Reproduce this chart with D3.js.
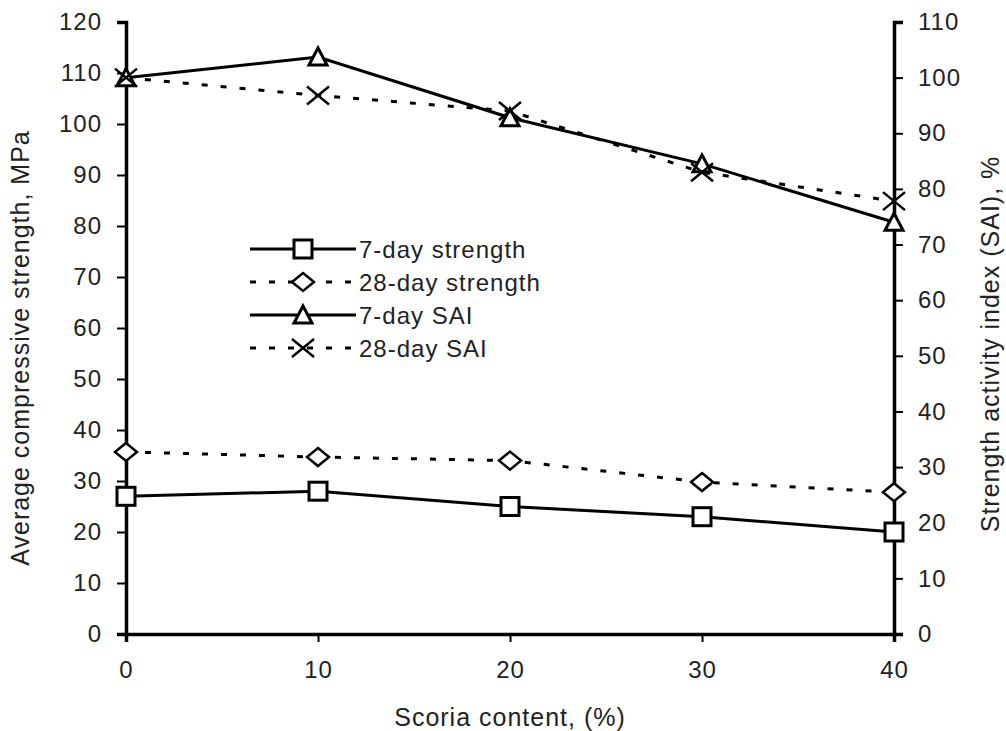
<!DOCTYPE html>
<html>
<head>
<meta charset="utf-8">
<script src="https://cdn.jsdelivr.net/npm/d3@7"></script>
<style>
  body { margin: 0; background: #fff; }
  text { font-family: "Liberation Sans", Arial, sans-serif; fill: #222; letter-spacing: 1px; }
</style>
</head>
<body>
<div id="chart"></div>
<script>
const scoria = [0, 10, 20, 30, 40];
const str7 = [27, 28, 25, 23, 20];
const str28 = [35.7, 34.7, 34, 29.8, 27.8];
const sai7 = [100, 103.7, 92.8, 84.5, 74];
const sai28 = [100, 96.8, 94, 83, 77.8];

const leftTicks = d3.range(0, 121, 10);
const rightTicks = d3.range(0, 111, 10);
const xTicks = [0, 10, 20, 30, 40];

const seriesNames = ['7-day strength', '28-day strength', '7-day SAI', '28-day SAI'];

window.onload = () => {
  const width = 1006, height = 731;
  const svg = d3.select('#chart').append('svg')
    .attr('width', width).attr('height', height);

  const x = d3.scaleLinear().domain([0, 40]).range([126, 894]);
  const yL = d3.scaleLinear().domain([0, 120]).range([634, 22]);
  const yR = d3.scaleLinear().domain([0, 110]).range([634, 22]);

  const fs = '24px';
  const gL = svg.append('g').attr('transform', `translate(${x(0)},0)`)
    .call(d3.axisLeft(yL).tickValues(leftTicks).tickSize(9).tickPadding(15));
  const gR = svg.append('g').attr('transform', `translate(${x(40)},0)`)
    .call(d3.axisRight(yR).tickValues(rightTicks).tickSize(9).tickPadding(15));
  const gX = svg.append('g').attr('transform', `translate(0,${yL(0)})`)
    .call(d3.axisBottom(x).tickValues(xTicks).tickSize(8).tickPadding(19));
  [gL, gR, gX].forEach(g => {
    g.select('.domain').attr('stroke', '#000').attr('stroke-width', 3.5);
    g.selectAll('.tick line').attr('stroke', '#000').attr('stroke-width', 2);
    g.selectAll('.tick text').style('font-size', fs).attr('fill', '#222')
      .style('font-family', '"Liberation Sans", Arial, sans-serif');
  });

  // axis titles
  svg.append('text')
    .attr('transform', `translate(29,348) rotate(-90)`)
    .attr('text-anchor', 'middle').style('font-size', '25px')
    .text('Average compressive strength, MPa');
  svg.append('text')
    .attr('transform', `translate(999,344) rotate(-90)`)
    .attr('text-anchor', 'middle').style('font-size', '25px')
    .text('Strength activity index (SAI), %');
  svg.append('text')
    .attr('x', 510).attr('y', 726)
    .attr('text-anchor', 'middle').style('font-size', '25px')
    .text('Scoria content, (%)');

  const dash = '6,13';
  const series = [
    { vals: str7, y: yL, dash: null, mark: 'square' },
    { vals: str28, y: yL, dash: dash, mark: 'diamond' },
    { vals: sai7, y: yR, dash: null, mark: 'triangle' },
    { vals: sai28, y: yR, dash: dash, mark: 'x' }
  ];

  function drawMarker(g, type) {
    if (type === 'square') {
      g.append('rect').attr('x', -9).attr('y', -9).attr('width', 18).attr('height', 18)
        .attr('fill', '#fff').attr('stroke', '#000').attr('stroke-width', 3);
    } else if (type === 'diamond') {
      g.append('path').attr('d', 'M0,-9L11,0L0,9L-11,0Z')
        .attr('fill', '#fff').attr('stroke', '#000').attr('stroke-width', 2.5);
    } else if (type === 'triangle') {
      g.append('path').attr('d', 'M0,-9L9,8L-9,8Z')
        .attr('fill', '#fff').attr('stroke', '#000').attr('stroke-width', 3);
    } else {
      g.append('path').attr('d', 'M-11,-9L11,9M-11,9L11,-9')
        .attr('fill', 'none').attr('stroke', '#000').attr('stroke-width', 2.5);
    }
  }

  series.forEach(s => {
    const line = d3.line().x((d, i) => x(scoria[i])).y(d => s.y(d));
    svg.append('path').datum(s.vals).attr('d', line)
      .attr('fill', 'none').attr('stroke', '#000').attr('stroke-width', 3)
      .attr('stroke-dasharray', s.dash);
  });
  series.forEach(s => {
    s.vals.forEach((v, i) => {
      const g = svg.append('g').attr('transform', `translate(${x(scoria[i])},${s.y(v)})`);
      drawMarker(g, s.mark);
    });
  });

  // legend
  const legend = svg.append('g');
  seriesNames.forEach((name, i) => {
    const ly = 249 + i * 33;
    const s = series[i];
    legend.append('line').attr('x1', 250).attr('x2', 356).attr('y1', ly).attr('y2', ly)
      .attr('stroke', '#000').attr('stroke-width', 3).attr('stroke-dasharray', s.dash);
    const g = legend.append('g').attr('transform', `translate(303,${ly})`);
    drawMarker(g, s.mark);
    legend.append('text').attr('x', 359).attr('y', ly + 9)
      .style('font-size', fs).text(name);
  });
};
</script>
</body>
</html>
